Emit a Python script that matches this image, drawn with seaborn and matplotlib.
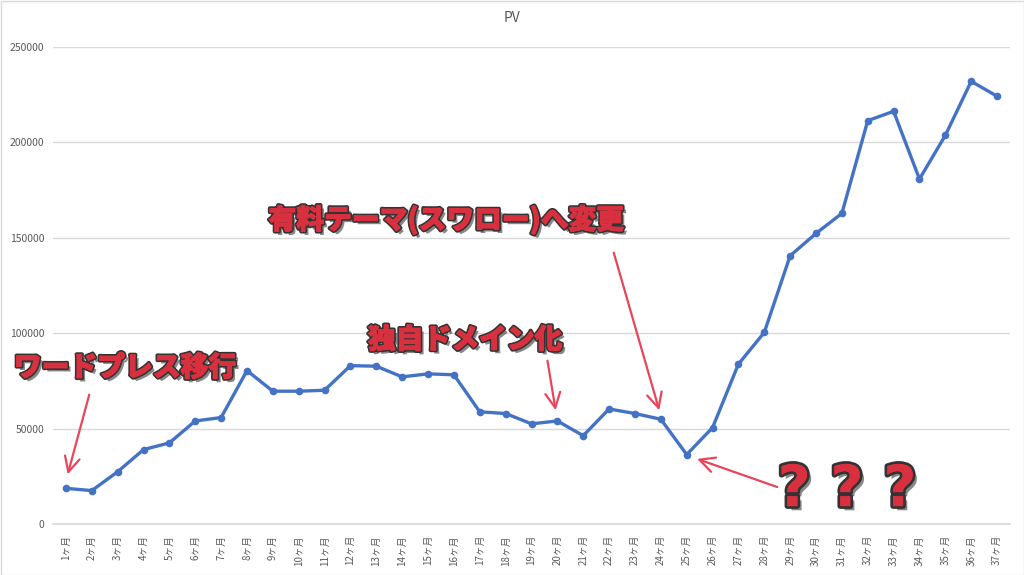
import numpy as np
import pandas as pd
import matplotlib
matplotlib.use("Agg")
import matplotlib.pyplot as plt
import matplotlib.patheffects as pe
from matplotlib.patches import Rectangle
import seaborn as sns

months = [f"{i}ヶ月" for i in range(1, 38)]
pv = [18700, 17500, 27400, 39000, 42500, 54000, 55800, 80400, 69600, 69600,
      70100, 83000, 82700, 77100, 78700, 78200, 58800, 57900, 52500, 54000,
      46300, 60300, 57900, 54900, 36400, 50500, 83800, 100400, 140600, 152300,
      162800, 211400, 216300, 180800, 203700, 232000, 224200]
y_ticks = [0, 50000, 100000, 150000, 200000, 250000]
title = "PV"
notes = ["ワードプレス移行", "独自ドメイン化", "有料テーマ(スワロー)へ変更", "? ? ?"]

sns.set_theme(style="white")
plt.rcParams['font.family'] = ['Noto Sans CJK JP', 'DejaVu Sans']

df = pd.DataFrame({"pos": np.arange(len(months)), "month": months, "pv": pv})

fig = plt.figure(figsize=(10.24, 5.75), dpi=100)
ax = fig.add_axes([53/1024, 51/575, (1010-53)/1024, (524-47)/575])

sns.lineplot(data=df, x="pos", y="pv", ax=ax, color="#4472C4", linewidth=2.4,
             marker="o", markersize=5.5, markeredgewidth=0, zorder=3)

ax.set_xlim(-0.5, len(months) - 0.5)
ax.set_ylim(0, 250000)
ax.set_yticks(y_ticks)
ax.set_yticklabels([str(v) for v in y_ticks], fontsize=7.5, color="#595959")
ax.set_xticks(df["pos"])
ax.set_xticklabels(months, rotation=90, fontsize=7, color="#595959")
ax.tick_params(axis="both", length=0, pad=6)
ax.tick_params(axis="x", pad=8)
ax.grid(axis="y", color="#d9d9d9", linewidth=1)
ax.set_axisbelow(True)
for s in ["left", "right", "top"]:
    ax.spines[s].set_visible(False)
ax.spines["bottom"].set_color("#d9d9d9")
ax.set_xlabel("")
ax.set_ylabel("")

fig.text(0.5, 1 - 18/575, title, ha="center", va="center", fontsize=10, color="#595959")

red = "#d8303f"
effects = [pe.SimplePatchShadow(offset=(2.5, -2.5), shadow_rgbFace="#555555", alpha=0.7),
           pe.withStroke(linewidth=3, foreground="#333333"),
           pe.withStroke(linewidth=0.7, foreground=red),
           pe.Normal()]
txt_kw = dict(color=red, fontweight="heavy", fontsize=20, ha="center", va="center",
              path_effects=effects, zorder=5)
ax.text(2.28, 81800, notes[0], **txt_kw)
ax.text(15.43, 96400, notes[1], **txt_kw)
ax.text(14.7, 159300, notes[2], **txt_kw)

q_effects = [pe.SimplePatchShadow(offset=(3, -3), shadow_rgbFace="#555555", alpha=0.7),
             pe.withStroke(linewidth=4, foreground="#333333"),
             pe.Normal()]
ax.text(30.2, 17500, notes[3], color=red, fontweight="bold", fontsize=41,
        family=["DejaVu Sans"], ha="center", va="center",
        path_effects=q_effects, zorder=5)

arrow_kw = dict(arrowstyle="->,head_length=0.9,head_width=0.45", color="#e8455a", lw=1.6)
arrows = [((0.93, 69200), (0.04, 24600)),
          ((18.6, 87000), (18.95, 58200)),
          ((21.15, 143600), (22.97, 58200)),
          ((27.6, 18900), (24.3, 34600))]
for tail, head in arrows:
    ax.annotate("", xy=head, xytext=tail, arrowprops=arrow_kw, zorder=4)

fig.patches.append(Rectangle((0.5/1024, 0.5/575), 1 - 1/1024, 1 - 1/575,
                             transform=fig.transFigure, fill=False,
                             edgecolor="#d9d9d9", linewidth=1))

fig.savefig("out.png", dpi=100)
